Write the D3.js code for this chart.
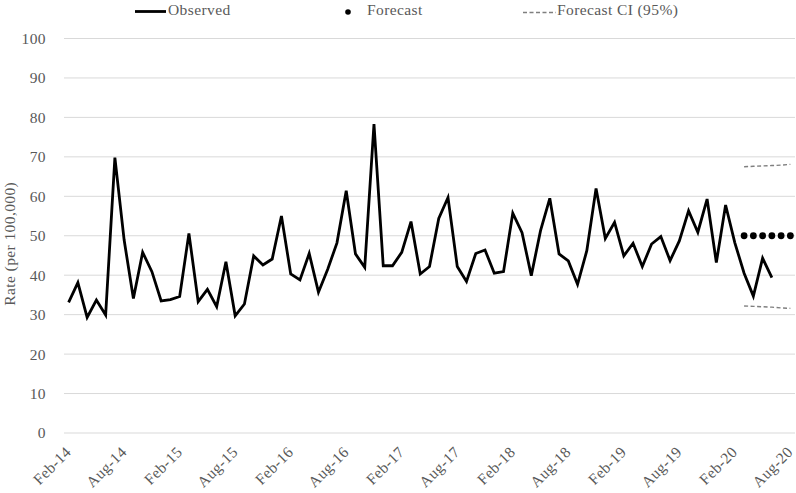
<!DOCTYPE html>
<html><head><meta charset="utf-8">
<script src="https://cdn.jsdelivr.net/npm/d3@7/dist/d3.min.js"></script>
<style>body{margin:0;background:#fff;}svg{display:block;}</style>
</head><body>
<svg id="chart" width="796" height="493"></svg>
<script>
// ---- data ----
const startMonth = new Date(2014, 1, 1); // Feb-14
const endMonth = new Date(2020, 7, 1);   // Aug-20
const observed = [33.1, 38.1, 29.3, 33.7, 29.9, 69.8, 48.9, 34.1, 45.8, 40.9, 33.5, 33.8,
  34.6, 50.6, 33.3, 36.4, 32.0, 43.4, 29.7, 32.7, 44.9, 42.6, 44.1, 55.0,
  40.3, 38.8, 45.5, 35.7, 41.5, 48.2, 61.4, 45.4, 42.0, 78.3, 42.4, 42.4,
  45.8, 53.6, 40.3, 42.2, 54.4, 59.7, 42.2, 38.4, 45.5, 46.4, 40.5, 40.9,
  55.7, 50.8, 39.9, 51.3, 59.5, 45.4, 43.6, 37.7, 46.2, 62.0, 49.3, 53.4,
  44.9, 48.1, 42.2, 47.9, 49.8, 43.7, 48.7, 56.3, 50.9, 59.3, 43.2, 57.8,
  48.2, 40.5, 34.7, 44.3, 39.4];
const forecastStartIndex = 73; // Mar-20
const forecast = [50, 50, 50, 50, 50, 50];
const ciUpper = [67.5, 67.6, 67.7, 67.8, 67.9, 68.1];
const ciLower = [32.2, 32.1, 32.0, 31.9, 31.7, 31.6];
const yTicks = [0, 10, 20, 30, 40, 50, 60, 70, 80, 90, 100];
const xTickLabels = ["Feb-14","Aug-14","Feb-15","Aug-15","Feb-16","Aug-16","Feb-17","Aug-17","Feb-18","Aug-18","Feb-19","Aug-19","Feb-20","Aug-20"];
const legendLabels = ["Observed", "Forecast", "Forecast CI (95%)"];
const yTitle = "Rate (per 100,000)";

// ---- build ----
(function () {
const fmt = d3.timeFormat("%b-%y");
const months = d3.timeMonth.range(startMonth, d3.timeMonth.offset(endMonth, 1)).map(fmt);

const svg = d3.select("#chart");
const font = "'Liberation Serif', 'DejaVu Serif', serif";
const fs = 15.5, ls = "0.4px";
const textColor = "#595959";
const mLeft = 64, mRight = 795, mTop = 38.5, mBottom = 433;

const x = d3.scalePoint().domain(months).range([mLeft, mRight]).padding(0.5);
const y = d3.scaleLinear().domain([0, 100]).range([mBottom, mTop]);

function styleText(sel) {
  sel.attr("font-family", font).attr("font-size", fs).attr("fill", textColor)
     .attr("letter-spacing", ls);
}

// gridlines
svg.append("g").selectAll("line").data(yTicks).join("line")
  .attr("x1", mLeft).attr("x2", mRight)
  .attr("y1", d => y(d)).attr("y2", d => y(d))
  .attr("stroke", "#d9d9d9").attr("stroke-width", 1);

// y axis labels
const yAxis = d3.axisLeft(y).tickValues(yTicks).tickSize(0).tickPadding(0);
const yg = svg.append("g").attr("transform", `translate(${mLeft - 18},0)`).call(yAxis);
yg.select(".domain").remove();
yg.selectAll("text").call(styleText);

// x axis labels
const xAxis = d3.axisBottom(x).tickValues(xTickLabels).tickSize(0).tickPadding(0);
const xg = svg.append("g").attr("transform", `translate(0,${mBottom})`).call(xAxis);
xg.select(".domain").remove();
xg.selectAll("text").call(styleText)
  .attr("text-anchor", "end")
  .attr("dy", null)
  .attr("transform", "translate(3,20) rotate(-45)");

// y title
svg.append("text")
  .attr("transform", `translate(15,${(mTop + mBottom) / 2 + 8}) rotate(-90)`)
  .attr("text-anchor", "middle")
  .call(styleText)
  .text(yTitle);

// observed line
const line = d3.line().x((d, i) => x(months[i])).y(d => y(d));
svg.append("path").datum(observed)
  .attr("d", line).attr("fill", "none")
  .attr("stroke", "#000").attr("stroke-width", 2.8).attr("stroke-linejoin", "miter");

// CI lines
const fLine = d3.line().x((d, i) => x(months[forecastStartIndex + i])).y(d => y(d));
[ciUpper, ciLower].forEach(arr => {
  svg.append("path").datum(arr).attr("d", fLine).attr("fill", "none")
    .attr("stroke", "#7f7f7f").attr("stroke-width", 1.4).attr("stroke-dasharray", "4,2.5");
});

// forecast dots
svg.append("g").selectAll("circle").data(forecast).join("circle")
  .attr("cx", (d, i) => x(months[forecastStartIndex + i]))
  .attr("cy", d => y(d)).attr("r", 3.4).attr("fill", "#000");

// legend
const lg = svg.append("g");
const ly = 11.5;
lg.append("line").attr("x1", 135).attr("x2", 166).attr("y1", ly).attr("y2", ly)
  .attr("stroke", "#000").attr("stroke-width", 2.8);
lg.append("text").attr("x", 168).attr("y", 15).call(styleText).text(legendLabels[0]);
lg.append("circle").attr("cx", 348).attr("cy", ly + 0.5).attr("r", 2.8).attr("fill", "#000");
lg.append("text").attr("x", 367).attr("y", 15).call(styleText).text(legendLabels[1]);
lg.append("line").attr("x1", 523).attr("x2", 556).attr("y1", ly + 1).attr("y2", ly + 1)
  .attr("stroke", "#7f7f7f").attr("stroke-width", 1.4).attr("stroke-dasharray", "4,2.5");
lg.append("text").attr("x", 557).attr("y", 15).call(styleText).text(legendLabels[2]);
})();
</script>
</body></html>
